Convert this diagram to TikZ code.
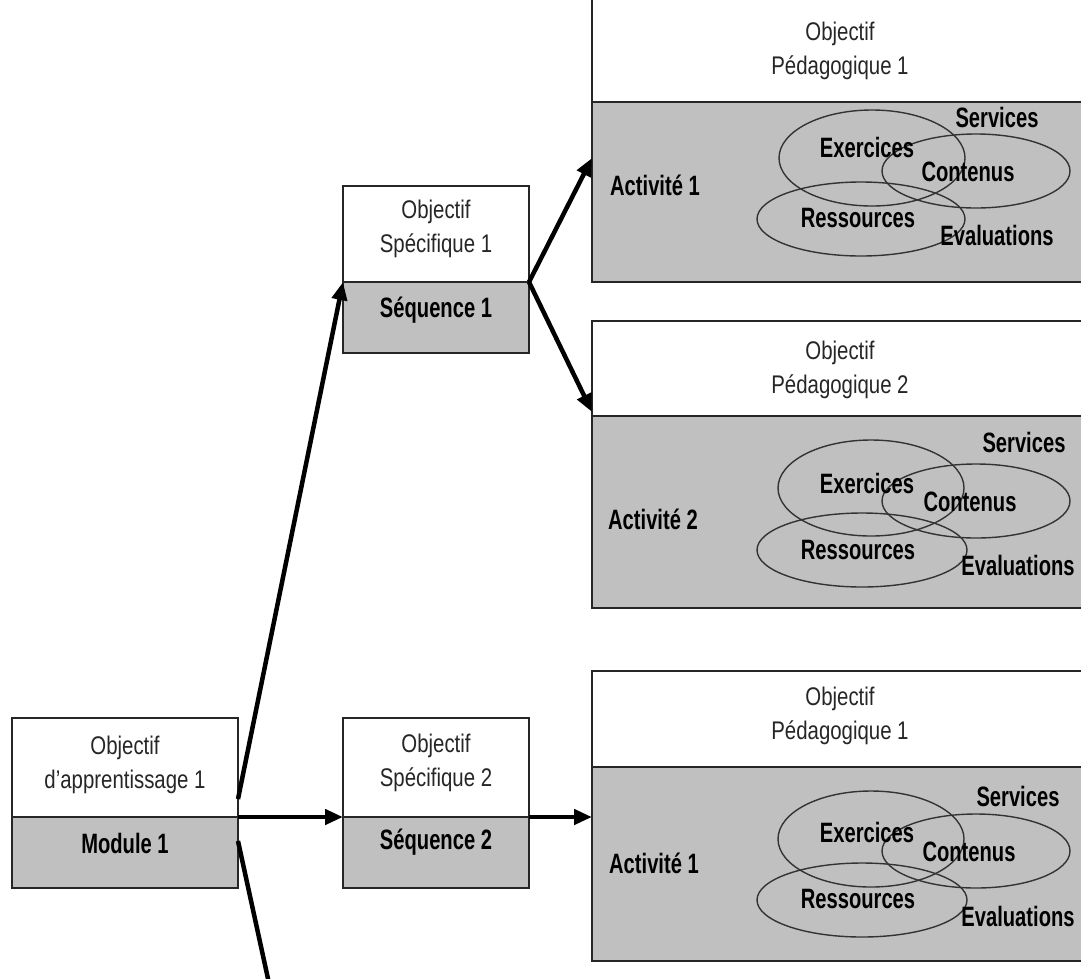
\documentclass[tikz,border=0pt]{standalone}
\usepackage{fontspec}
\setmainfont[FakeStretch=0.8]{Liberation Sans}
\newfontfamily\bnarrow[FakeStretch=0.72]{Liberation Sans}
\usetikzlibrary{arrows.meta,calc}
\definecolor{boxgray}{RGB}{192,192,192}
\begin{document}
\begin{tikzpicture}[x=1pt,y=-1pt,
  wbox/.style={draw=black!85,line width=1.8pt,fill=white,inner sep=0pt,outer sep=0pt},
  gbox/.style={wbox,fill=boxgray},
  txt/.style={font=\fontsize{25.5}{34}\selectfont,align=center,inner sep=0pt,text=black!85},
  btxt/.style={font=\bnarrow\fontsize{28}{30}\selectfont\bfseries,inner sep=0pt},
  conn/.style={line width=4.5pt,-{Triangle[length=18pt,width=15pt]}},
  venn/.style={draw=black!80,line width=1.4pt}]
\useasboundingbox (0,0) rectangle (1081,978);
\clip (0,0) rectangle (1081,978);
\fill[white] (0,0) rectangle (1081,978);

% Module 1
\node[wbox,minimum width=226pt,minimum height=99pt] (modT) at (125,767.5) {};
\node[gbox,minimum width=226pt,minimum height=71pt] (modB) at (125,852.5) {};
\node[txt] (modTx) at (125,765) {Objectif\\d’apprentissage 1};
\node[btxt] (modBx) at (125,843) {Module 1};

% Sequence 1
\node[wbox,minimum width=186pt,minimum height=96pt] (s1T) at (436,234) {};
\node[gbox,minimum width=186pt,minimum height=71pt] (s1B) at (436,317.5) {};
\node[txt] (s1Tx) at (436,229) {Objectif\\Spécifique 1};
\node[btxt] (s1Bx) at (436,310) {Séquence 1};

% Sequence 2
\node[wbox,minimum width=186pt,minimum height=99pt] (s2T) at (436,767.5) {};
\node[gbox,minimum width=186pt,minimum height=71pt] (s2B) at (436,852.5) {};
\node[txt] (s2Tx) at (436,763) {Objectif\\Spécifique 2};
\node[btxt] (s2Bx) at (436,842) {Séquence 2};

% Big box 1
\node[wbox,minimum width=520pt,minimum height=112pt] (b1T) at (852,46) {};
\node[gbox,minimum width=520pt,minimum height=180pt] (b1B) at (852,192) {};
\node[txt] (b1Tx) at (840,51) {Objectif\\Pédagogique 1};
\node[btxt] (b1act) at (655,185) {Activité 1};
\draw[venn] (872,158) ellipse (93 and 48);
\draw[venn] (976,171) ellipse (94 and 37);
\draw[venn] (861,219) ellipse (104 and 37);
\node[btxt] (b1ser) at (997,117) {Services};
\node[btxt] (b1exe) at (867,147) {Exercices};
\node[btxt] (b1con) at (968,172) {Contenus};
\node[btxt] (b1res) at (858,218) {Ressources};
\node[btxt] (b1eva) at (997,235) {Evaluations};

% Big box 2
\node[wbox,minimum width=520pt,minimum height=95pt] (b2T) at (852,368.5) {};
\node[gbox,minimum width=520pt,minimum height=192pt] (b2B) at (852,512) {};
\node[txt] (b2Tx) at (840,370) {Objectif\\Pédagogique 2};
\node[btxt] (b2act) at (653,519) {Activité 2};
\draw[venn] (871,488) ellipse (93 and 48);
\draw[venn] (976,501) ellipse (94 and 37);
\draw[venn] (862,550) ellipse (105 and 37);
\node[btxt] (b2ser) at (1024,442) {Services};
\node[btxt] (b2exe) at (867,483) {Exercices};
\node[btxt] (b2con) at (970,502) {Contenus};
\node[btxt] (b2res) at (858,550) {Ressources};
\node[btxt] (b2eva) at (1018,565) {Evaluations};

% Big box 3
\node[wbox,minimum width=520pt,minimum height=96pt] (b3T) at (852,719) {};
\node[gbox,minimum width=520pt,minimum height=194pt] (b3B) at (852,864) {};
\node[txt] (b3Tx) at (840,716) {Objectif\\Pédagogique 1};
\node[btxt] (b3act) at (654,863) {Activité 1};
\draw[venn] (871,839) ellipse (93 and 48);
\draw[venn] (976,851) ellipse (94 and 37);
\draw[venn] (862,900) ellipse (105 and 37);
\node[btxt] (b3ser) at (1018,796) {Services};
\node[btxt] (b3exe) at (867,832) {Exercices};
\node[btxt] (b3con) at (969,852) {Contenus};
\node[btxt] (b3res) at (858,899) {Ressources};
\node[btxt] (b3eva) at (1018,916) {Evaluations};

% connectors
\coordinate (offbot) at (277,1020);
\draw[conn] ([yshift=18pt]modT.south east) -- (s1T.south west);
\draw[conn] (modT.south east) -- (s2T.south west);
\draw[conn] ([yshift=-24pt]modB.north east) -- (offbot);
\draw[conn] (s1T.south east) -- ([yshift=34pt]b1B.west);
\draw[conn] (s1T.south east) -- ([yshift=4pt]b2T.south west);
\draw[conn] (s2T.south east) -- ([yshift=47pt]b3B.west);
\end{tikzpicture}
\end{document}
